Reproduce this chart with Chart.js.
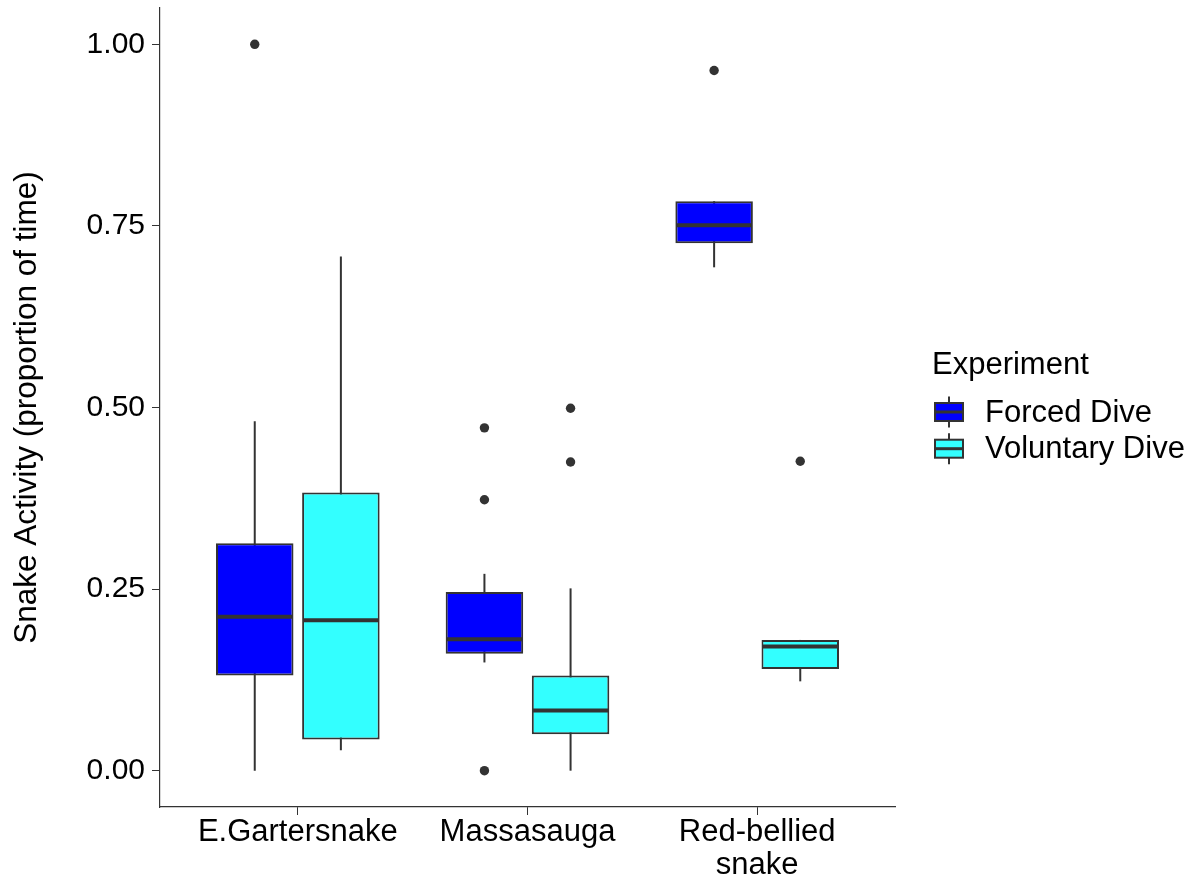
<!DOCTYPE html>
<html>
<head>
<meta charset="utf-8">
<script src="https://cdn.jsdelivr.net/npm/chart.js@4.4.0/dist/chart.umd.min.js"></script>
<style>
  html, body { margin: 0; padding: 0; background: #fff; }
  #wrap { width: 1202px; height: 886px; }
</style>
</head>
<body>
<div id="wrap"><canvas id="myChart" width="1202" height="886"></canvas></div>
<script>
// categories (x positions 1, 2, 3 on the axis)
var species = ['E.Gartersnake', 'Massasauga', 'Red-bellied snake'];
var speciesPos = [1, 2, 3];
var tickLabels = [['E.Gartersnake'], ['Massasauga'], ['Red-bellied', 'snake']];
var yTicks = [0, 0.25, 0.5, 0.75, 1];

// Forced Dive
var forcedLow = [0.000, 0.149, 0.693];
var forcedQ1 = [0.131, 0.161, 0.726];
var forcedMedian = [0.212, 0.181, 0.751];
var forcedQ3 = [0.313, 0.246, 0.784];
var forcedHigh = [0.481, 0.271, 0.784];
var forcedOutliers = [[1.000], [0.472, 0.373, 0.000], [0.964]];

// Voluntary Dive
var voluntaryLow = [0.028, 0.000, 0.123];
var voluntaryQ1 = [0.043, 0.050, 0.140];
var voluntaryMedian = [0.207, 0.083, 0.171];
var voluntaryQ3 = [0.383, 0.131, 0.180];
var voluntaryHigh = [0.708, 0.251, 0.180];
var voluntaryOutliers = [[], [0.499, 0.425], [0.426]];

var FONT = "'Liberation Sans', Arial, sans-serif";
var INK = '#333333';

function boxData(q1, q3) {
    var out = [];
    for (var i = 0; i < speciesPos.length; i++) {
        out.push({ x: speciesPos[i], y: [q1[i], q3[i]] });
    }
    return out;
}

// whiskers behind the boxes, medians and outliers on top
var boxExtras = {
    id: 'boxExtras',
    beforeDatasetsDraw: function(chart) {
        var ctx = chart.ctx, y = chart.scales.y;
        chart.data.datasets.forEach(function(ds, di) {
            chart.getDatasetMeta(di).data.forEach(function(bar, i) {
                ctx.save();
                ctx.strokeStyle = INK;
                ctx.lineWidth = 2;
                ctx.beginPath();
                ctx.moveTo(bar.x, y.getPixelForValue(ds.low[i]));
                ctx.lineTo(bar.x, y.getPixelForValue(ds.high[i]));
                ctx.stroke();
                ctx.restore();
            });
        });
    },
    afterDatasetsDraw: function(chart) {
        var ctx = chart.ctx, y = chart.scales.y;
        chart.data.datasets.forEach(function(ds, di) {
            chart.getDatasetMeta(di).data.forEach(function(bar, i) {
                var half = bar.width / 2;
                var ym = y.getPixelForValue(ds.median[i]);
                ctx.save();
                ctx.strokeStyle = INK;
                ctx.lineWidth = 4;
                ctx.beginPath();
                ctx.moveTo(bar.x - half + 1, ym);
                ctx.lineTo(bar.x + half - 1, ym);
                ctx.stroke();
                ctx.fillStyle = INK;
                ds.outliers[i].forEach(function(v) {
                    ctx.beginPath();
                    ctx.arc(bar.x, y.getPixelForValue(v), 4.7, 0, Math.PI * 2);
                    ctx.fill();
                });
                ctx.restore();
            });
        });
    },
    afterDraw: function(chart) {
        // ggplot style legend to the right of the panel
        var ctx = chart.ctx;
        var lx = chart.chartArea.right + 37;
        ctx.save();
        ctx.fillStyle = '#000';
        ctx.font = '31px ' + FONT;
        ctx.textBaseline = 'alphabetic';
        ctx.textAlign = 'left';
        ctx.fillText('Experiment', lx, 374);
        chart.data.datasets.forEach(function(ds, di) {
            var cy = 412 + di * 36.7;
            var kx = lx + 17;
            ctx.strokeStyle = INK;
            ctx.lineWidth = 2;
            ctx.beginPath();
            ctx.moveTo(kx, cy - 15.5);
            ctx.lineTo(kx, cy + 15.5);
            ctx.stroke();
            ctx.fillStyle = ds.backgroundColor;
            ctx.fillRect(kx - 14, cy - 9, 28, 18);
            ctx.strokeRect(kx - 14, cy - 9, 28, 18);
            ctx.lineWidth = 3;
            ctx.beginPath();
            ctx.moveTo(kx - 14, cy);
            ctx.lineTo(kx + 14, cy);
            ctx.stroke();
            ctx.fillStyle = '#000';
            ctx.textBaseline = 'middle';
            ctx.fillText(ds.label, lx + 53, cy + 1);
        });
        ctx.restore();
    }
};

var config = {
    type: 'bar',
    data: {
        datasets: [{
            label: 'Forced Dive',
            data: boxData(forcedQ1, forcedQ3),
            low: forcedLow,
            median: forcedMedian,
            high: forcedHigh,
            outliers: forcedOutliers,
            backgroundColor: '#0000FF',
            borderColor: INK,
            borderWidth: 2,
            borderSkipped: false
        },
        {
            label: 'Voluntary Dive',
            data: boxData(voluntaryQ1, voluntaryQ3),
            low: voluntaryLow,
            median: voluntaryMedian,
            high: voluntaryHigh,
            outliers: voluntaryOutliers,
            backgroundColor: '#33FFFF',
            borderColor: INK,
            borderWidth: 2,
            borderSkipped: false
        }]
    },
    options: {
        responsive: false,
        animation: false,
        categoryPercentage: 0.75,
        barPercentage: 0.9,
        layout: {
            padding: { left: 0, top: 8, right: 307, bottom: 0 }
        },
        plugins: {
            legend: { display: false },
            tooltip: { enabled: false }
        },
        scales: {
            x: {
                type: 'linear',
                min: 0.4,
                max: 3.6,
                offset: false,
                grid: { drawOnChartArea: false, drawTicks: true, tickLength: 8, color: INK, offset: false },
                border: { display: true, color: INK, width: 1.2 },
                afterBuildTicks: function(scale) {
                    scale.ticks = speciesPos.map(function(v) { return { value: v }; });
                },
                afterFit: function(scale) {
                    scale.height = 79;
                    scale.paddingLeft = 0;
                    scale.paddingRight = 0;
                },
                ticks: {
                    autoSkip: false,
                    maxRotation: 0,
                    padding: 1,
                    color: '#000',
                    font: { family: FONT, size: 31, lineHeight: 1.07 },
                    callback: function(value) {
                        return tickLabels[speciesPos.indexOf(value)];
                    }
                }
            },
            y: {
                min: -0.05,
                max: 1.05,
                grid: { drawOnChartArea: false, drawTicks: true, tickLength: 8, color: INK },
                border: { display: true, color: INK, width: 1.2 },
                afterBuildTicks: function(scale) {
                    scale.ticks = yTicks.map(function(v) { return { value: v }; });
                },
                afterFit: function(scale) {
                    scale.width = 160;
                    scale.paddingTop = 0;
                    scale.paddingBottom = 0;
                },
                ticks: {
                    padding: 7,
                    color: '#000',
                    font: { family: FONT, size: 30 },
                    callback: function(value) { return value.toFixed(2); }
                },
                title: {
                    display: true,
                    text: 'Snake Activity (proportion of time)',
                    color: '#000',
                    font: { family: FONT, size: 31.5 },
                    padding: { top: 8, bottom: 0 }
                }
            }
        }
    },
    plugins: [boxExtras]
};

const ctx = document.getElementById('myChart');
const myChart = new Chart(ctx, config);
</script>
</body>
</html>
